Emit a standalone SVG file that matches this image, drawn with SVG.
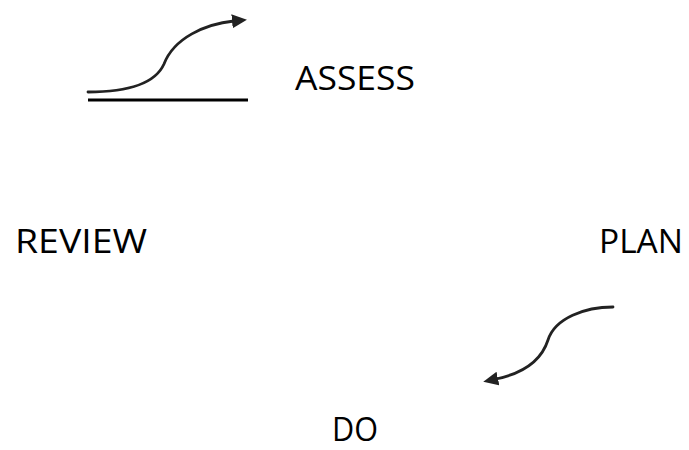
<svg xmlns="http://www.w3.org/2000/svg" width="689" height="450" viewBox="0 0 689 450">
<style>
text{font-family:"Open Sans","Noto Sans","Liberation Sans",sans-serif;font-size:33px;fill:#000}
.c{fill:none;stroke:#222;stroke-width:2.8;stroke-linecap:round}
</style>
<defs>
<marker id="ah" markerUnits="userSpaceOnUse" markerWidth="18" markerHeight="16" refX="2" refY="7" orient="auto">
<path d="M0,0 L15,7 L0,14 Z" fill="#222"/>
</marker>
</defs>
<rect width="689" height="450" fill="#fff"/>
<g id="connectors">
<path class="c" d="M88,92 C128,92 155,84 164,64 C174,38 205,24 234,21" marker-end="url(#ah)"/>
<path class="c" d="M613,307 C585,307 555,318 548,340 C540,365 515,375 496,379" marker-end="url(#ah)"/>
<line x1="88" y1="100" x2="248" y2="100" stroke="#000" stroke-width="3"/>
</g>
<g id="assess"><text x="295" y="90" textLength="120" lengthAdjust="spacingAndGlyphs">ASSESS</text></g>
<g id="review"><text x="15" y="253" textLength="132" lengthAdjust="spacingAndGlyphs">REVIEW</text></g>
<g id="plan"><text x="599" y="253" textLength="84" lengthAdjust="spacingAndGlyphs">PLAN</text></g>
<g id="do"><text x="332" y="441" font-size="32" textLength="46" lengthAdjust="spacingAndGlyphs">DO</text></g>
</svg>
